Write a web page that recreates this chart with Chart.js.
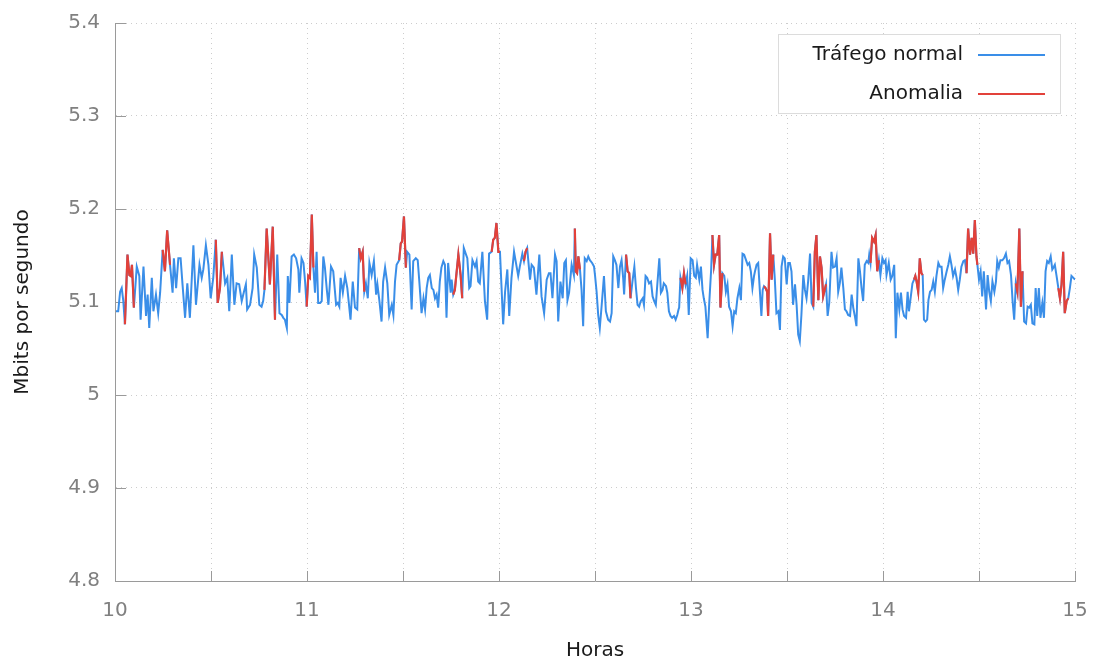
<!DOCTYPE html>
<html>
<head>
<meta charset="utf-8">
<script src="https://cdn.jsdelivr.net/npm/chart.js@4.4.1/dist/chart.umd.min.js"></script>
<style>
  html, body { margin: 0; padding: 0; background: #ffffff; }
  #wrap { width: 1099px; height: 664px; }
</style>
</head>
<body>
<div id="wrap"><canvas id="c" width="1099" height="664"></canvas></div>
<script>
// ---- data (minutes after 10:00, Mbit/s, anomaly flag) ----
const seriesLabels = ["Tráfego normal", "Anomalia"];
const xTitle = "Horas";
const yTitle = "Mbits por segundo";
const startHour = 10;

const minutes = [
  0.3,1.0,1.6,2.1,2.6,3.1,3.9,4.5,4.9,5.3,5.9,6.8,7.6,8.0,8.9,9.7,10.2,10.7,11.5,12.0,12.8,13.5,14.1,14.9,15.6,16.3,17.2,18.0,18.4,19.1,19.8,20.5,21.1,21.9,22.6,23.4,24.5,25.3,26.4,27.1,27.6,28.4,29.2,29.9,30.7,31.5,32.1,32.8,33.4,34.4,35.1,35.7,36.5,37.3,38.0,38.8,39.6,40.3,40.9,41.3,42.2,43.0,43.5,44.3,45.1,45.8,46.3,46.7,47.4,48.4,49.3,50.0,
  50.7,51.4,52.1,52.6,53.1,53.7,54.0,54.5,55.2,55.9,56.6,57.3,57.6,58.3,58.9,59.4,59.9,60.4,60.9,61.5,62.0,62.5,63.0,63.5,64.1,64.6,65.1,65.6,66.2,66.7,67.5,68.2,69.1,69.6,70.1,70.5,71.2,71.9,72.6,73.6,74.3,75.0,75.7,76.3,76.8,77.4,77.9,78.4,79.0,79.5,80.2,80.9,81.6,82.0,82.6,83.3,83.8,84.4,85.1,85.7,86.5,87.0,87.5,88.0,88.8,89.3,89.7,90.3,90.9,91.3,92.0,92.7,93.2,94.0,94.6,95.1,95.8,96.4,96.9,97.4,97.9,98.4,99.0,99.5,100.0,
  100.5,101.0,101.5,102.0,102.6,103.1,103.6,104.1,104.9,105.2,105.7,106.2,107.3,108.0,108.5,109.0,109.7,110.1,110.7,111.1,111.7,112.5,113.0,113.5,114.0,114.8,115.6,116.3,116.9,117.7,118.2,118.7,119.2,119.8,120.3,120.8,121.3,121.9,122.6,123.2,123.9,124.7,125.3,126.0,126.5,127.3,127.8,128.3,128.8,129.7,130.2,130.9,131.7,132.6,133.3,134.1,134.9,135.6,136.1,136.7,137.5,138.0,138.5,139.2,139.9,140.4,140.9,141.4,141.9,142.7,143.4,143.7,144.0,144.4,144.8,145.3,145.8,146.3,146.8,147.4,147.9,148.4,149.1,149.7,
  150.0,150.5,151.0,151.5,152.1,152.8,153.4,154.1,154.7,155.2,155.7,156.2,156.7,157.3,157.8,158.3,158.8,159.1,159.7,160.2,160.7,161.1,161.7,162.3,162.8,163.3,163.8,164.3,164.9,165.3,165.8,166.3,166.9,167.5,168.0,168.5,169.0,169.5,170.1,170.6,171.1,171.5,172.2,172.6,173.1,173.6,174.1,174.7,175.2,175.7,176.1,176.3,176.7,177.3,177.8,178.3,178.8,179.3,179.9,180.5,181.0,181.5,181.9,182.6,183.1,183.6,184.0,184.5,185.2,185.7,186.3,186.7,187.2,187.7,188.2,188.8,189.2,189.8,190.4,190.9,191.4,191.9,192.5,193.0,193.5,194.0,194.5,195.1,195.6,196.1,196.6,197.2,197.7,198.2,198.7,199.2,199.7,
  200.0,200.5,201.0,201.5,202.0,202.4,202.8,203.3,203.8,204.1,204.7,205.2,205.7,206.2,206.7,207.3,207.8,208.3,208.8,209.3,209.9,210.4,210.9,211.4,211.9,212.5,213.0,213.5,214.0,214.5,215.1,215.6,216.1,216.6,217.2,217.7,218.2,218.7,219.2,219.8,220.3,220.8,221.3,222.2,222.7,223.2,223.9,224.4,225.0,225.5,226.0,226.5,227.0,227.6,228.1,228.6,229.1,229.7,230.2,230.7,231.2,231.7,232.3,232.8,233.3,233.8,234.3,234.9,235.4,235.7,236.1,236.6,237.2,237.7,238.2,238.7,239.2,239.8,240.3,240.8,241.1,241.8,242.4,242.9,243.5,244.0,244.5,245.1,245.6,246.1,246.6,247.2,247.7,248.1,248.7,
  249.2,249.7,250.1,250.5,251.0,251.5,252.0,252.4,252.8,253.3,253.8,254.2,254.7,255.2,255.7,256.2,256.7,257.3,257.8,258.3,258.8,259.3,259.9,260.4,260.9,261.4,261.9,262.5,263.0,263.5,264.0,264.5,265.1,265.6,266.1,266.6,267.2,267.7,268.2,268.7,269.2,269.5,270.0,270.5,271.0,271.5,272.2,272.7,273.2,273.7,274.2,274.8,275.3,275.7,276.2,276.7,277.3,277.8,278.4,278.9,279.4,280.0,280.5,281.0,281.5,282.0,282.6,283.1,283.6,284.1,284.7,285.2,285.7,286.2,286.7,287.3,287.7,288.2,288.7,289.2,289.8,290.3,290.8,291.3,291.8,292.4,292.9,293.4,293.7,294.2,294.8,295.3,295.8,296.3,296.8,297.4,297.9,298.4,298.9,299.5,300.0
];

const mbps = [
  5.090,5.090,5.111,5.115,5.101,5.076,5.151,5.129,5.128,5.140,5.094,5.138,5.128,5.081,5.138,5.085,5.108,5.072,5.126,5.090,5.108,5.088,5.110,5.156,5.133,5.177,5.140,5.110,5.147,5.115,5.147,5.147,5.119,5.083,5.120,5.083,5.161,5.097,5.140,5.126,5.135,5.161,5.140,5.104,5.126,5.167,5.099,5.115,5.154,5.120,5.126,5.090,5.151,5.097,5.120,5.119,5.101,5.111,5.119,5.092,5.097,5.115,5.151,5.137,5.097,5.095,5.101,5.113,5.179,5.119,5.181,5.081,
  5.151,5.088,5.086,5.083,5.081,5.072,5.128,5.099,5.149,5.151,5.147,5.135,5.110,5.147,5.142,5.122,5.095,5.128,5.126,5.194,5.137,5.110,5.154,5.099,5.099,5.101,5.149,5.137,5.113,5.097,5.138,5.133,5.097,5.099,5.095,5.126,5.110,5.128,5.115,5.081,5.122,5.094,5.092,5.158,5.147,5.154,5.111,5.120,5.104,5.142,5.129,5.144,5.108,5.119,5.102,5.079,5.122,5.137,5.120,5.086,5.097,5.086,5.122,5.140,5.145,5.163,5.165,5.192,5.137,5.154,5.151,5.092,5.144,5.147,5.145,5.122,5.088,5.104,5.092,5.115,5.126,5.129,5.115,5.113,5.104,
  5.108,5.094,5.122,5.137,5.144,5.140,5.083,5.142,5.110,5.124,5.108,5.113,5.151,5.129,5.104,5.158,5.151,5.147,5.115,5.117,5.145,5.138,5.144,5.122,5.120,5.154,5.101,5.081,5.152,5.154,5.167,5.169,5.185,5.154,5.154,5.115,5.076,5.111,5.135,5.085,5.126,5.154,5.142,5.128,5.138,5.152,5.144,5.154,5.158,5.124,5.140,5.137,5.108,5.151,5.106,5.088,5.124,5.131,5.131,5.104,5.151,5.144,5.079,5.122,5.104,5.142,5.145,5.102,5.110,5.140,5.129,5.179,5.133,5.131,5.149,5.135,5.113,5.074,5.147,5.144,5.149,5.145,5.142,5.138,
  5.129,5.111,5.086,5.072,5.097,5.128,5.090,5.081,5.079,5.088,5.149,5.145,5.140,5.115,5.138,5.145,5.126,5.108,5.151,5.133,5.131,5.104,5.122,5.138,5.115,5.097,5.095,5.101,5.104,5.097,5.128,5.126,5.120,5.122,5.106,5.101,5.097,5.120,5.147,5.110,5.113,5.120,5.117,5.110,5.090,5.085,5.083,5.085,5.081,5.086,5.092,5.094,5.126,5.115,5.131,5.119,5.128,5.086,5.147,5.145,5.128,5.126,5.140,5.124,5.138,5.113,5.104,5.095,5.061,5.099,5.135,5.172,5.140,5.151,5.151,5.172,5.094,5.131,5.128,5.111,5.119,5.095,5.090,5.074,5.090,5.088,5.104,5.115,5.102,5.152,5.151,5.145,5.140,5.142,5.133,5.115,5.128,
  5.133,5.140,5.142,5.113,5.085,5.113,5.117,5.115,5.111,5.085,5.174,5.124,5.151,5.124,5.088,5.090,5.070,5.138,5.149,5.147,5.119,5.142,5.142,5.133,5.097,5.119,5.097,5.065,5.058,5.086,5.129,5.113,5.104,5.122,5.152,5.099,5.095,5.154,5.172,5.102,5.149,5.137,5.106,5.119,5.085,5.099,5.154,5.137,5.138,5.147,5.111,5.120,5.137,5.115,5.092,5.090,5.086,5.085,5.108,5.094,5.085,5.074,5.147,5.133,5.115,5.101,5.140,5.144,5.142,5.151,5.142,5.169,5.165,5.172,5.133,5.145,5.129,5.147,5.142,5.145,5.129,5.142,5.124,5.128,5.140,5.061,5.110,5.092,5.110,5.092,5.085,5.083,5.111,5.090,5.106,
  5.120,5.124,5.128,5.122,5.111,5.147,5.131,5.129,5.081,5.079,5.081,5.102,5.111,5.113,5.122,5.111,5.128,5.142,5.138,5.138,5.115,5.124,5.133,5.140,5.149,5.140,5.128,5.135,5.126,5.113,5.124,5.138,5.144,5.145,5.131,5.179,5.151,5.169,5.152,5.188,5.149,5.140,5.124,5.133,5.106,5.133,5.092,5.129,5.111,5.101,5.122,5.111,5.122,5.144,5.137,5.145,5.145,5.147,5.152,5.142,5.144,5.129,5.101,5.081,5.120,5.111,5.179,5.095,5.133,5.079,5.077,5.095,5.094,5.097,5.077,5.076,5.115,5.085,5.115,5.083,5.099,5.083,5.133,5.144,5.142,5.149,5.135,5.138,5.140,5.129,5.115,5.104,5.119,5.154,5.088,5.101,5.104,5.115,5.128,5.126,5.124
];

const anomalyFlag = [
  0,0,0,0,0,1,1,1,1,1,1,0,0,0,0,0,0,0,0,0,0,0,0,1,1,1,1,0,0,0,0,0,0,0,0,0,0,0,0,0,0,0,0,0,0,1,1,1,1,0,0,0,0,0,0,0,0,0,0,0,0,0,0,0,0,0,0,1,1,1,1,1,
  0,0,0,0,0,0,0,0,0,0,0,0,0,0,0,0,1,1,1,1,1,0,0,0,0,0,0,0,0,0,0,0,0,0,0,0,0,0,0,0,0,0,0,1,1,1,1,0,0,0,0,0,0,0,0,0,0,0,0,0,0,0,0,0,1,1,1,1,1,0,0,0,0,0,0,0,0,0,0,0,0,0,0,0,0,0,
  0,0,0,0,0,0,0,0,0,1,1,1,1,1,0,0,0,0,0,0,0,0,0,0,0,0,0,0,1,1,1,1,1,1,0,0,0,0,0,0,0,0,0,0,0,1,1,1,0,0,0,0,0,0,0,0,0,0,0,0,0,0,0,0,0,0,0,0,0,0,1,1,1,1,1,0,0,0,0,0,0,0,0,0,
  0,0,0,0,0,0,0,0,0,0,0,0,0,0,0,0,0,1,1,1,1,0,0,0,0,0,0,0,0,0,0,0,0,0,0,0,0,0,0,0,0,0,0,0,0,0,0,0,0,0,0,1,1,1,1,0,0,0,0,0,0,0,0,0,0,0,0,0,0,0,1,1,1,1,1,1,1,0,0,0,0,0,0,0,0,0,0,0,0,0,0,0,0,0,0,0,0,
  0,0,0,0,0,1,1,1,1,1,1,1,0,0,0,0,0,0,0,0,0,0,0,0,0,0,0,0,0,0,0,0,0,0,0,1,1,1,1,1,1,1,1,0,0,0,0,0,0,0,0,0,0,0,0,0,0,0,0,0,0,0,0,0,0,0,0,0,0,1,1,1,1,1,1,0,0,0,0,0,0,0,0,0,0,0,0,0,0,0,0,0,0,0,0,
  1,1,1,1,1,1,1,0,0,0,0,0,0,0,0,0,0,0,0,0,0,0,0,0,0,0,0,0,0,0,0,0,0,1,1,1,1,1,1,1,1,0,0,0,0,0,0,0,0,0,0,0,0,0,0,0,0,0,0,0,0,0,0,1,1,1,1,1,0,0,0,0,0,0,0,0,0,0,0,0,0,0,0,0,0,0,0,0,0,1,1,1,1,1,1,1,0,0,0,0,0,0
];

const xTicksMin = 10, xTicksMax = 15, xStep = 0.5;
const yTicksMin = 4.8, yTicksMax = 5.4, yStep = 0.1;

// ---- build datasets ----
const n = Math.min(minutes.length, mbps.length);
const normalPts = [];
const anomalyPts = [];
for (let i = 0; i < n; i++) {
  const x = startHour + minutes[i] / 60;
  normalPts.push({ x: x, y: mbps[i] });
  anomalyPts.push({ x: x, y: anomalyFlag[i] ? mbps[i] : null });
}

const BLUE = '#3a8ee8';
const RED = '#e2413a';
const FONT = "'DejaVu Sans', 'Liberation Sans', sans-serif";

// inside tick marks (gnuplot style)
const insideTicks = {
  id: 'insideTicks',
  beforeDatasetsDraw(chart) {
    const { ctx, chartArea: a, scales } = chart;
    ctx.save();
    ctx.strokeStyle = '#9a9a9a';
    ctx.lineWidth = 1;
    ctx.beginPath();
    scales.y.ticks.forEach(t => {
      const y = Math.round(scales.y.getPixelForValue(t.value)) + 0.5;
      ctx.moveTo(a.left, y); ctx.lineTo(a.left + 11, y);
    });
    scales.x.ticks.forEach(t => {
      const x = Math.round(scales.x.getPixelForValue(t.value)) + 0.5;
      ctx.moveTo(x, a.bottom); ctx.lineTo(x, a.bottom - 10);
    });
    ctx.stroke();
    ctx.restore();
  }
};

// legend box like the reference (text right-aligned, line sample on the right)
const boxLegend = {
  id: 'boxLegend',
  afterDatasetsDraw(chart) {
    const { ctx, chartArea: a } = chart;
    const w = 282, h = 79;
    const left = a.right - 15 - w, top = a.top + 11;
    ctx.save();
    ctx.fillStyle = '#ffffff';
    ctx.fillRect(left, top, w, h);
    ctx.strokeStyle = '#dcdcdc';
    ctx.lineWidth = 1;
    ctx.strokeRect(left + 0.5, top + 0.5, w, h);
    ctx.font = '20px ' + FONT;
    ctx.textAlign = 'right';
    ctx.textBaseline = 'middle';
    const rows = [top + 21, top + 60];
    chart.data.datasets.slice().sort((p, q) => p.legendRank - q.legendRank).forEach((ds, i) => {
      ctx.fillStyle = '#1a1a1a';
      ctx.fillText(ds.label, left + 185, rows[i]);
      ctx.strokeStyle = ds.borderColor;
      ctx.lineWidth = 2;
      ctx.beginPath();
      ctx.moveTo(left + 200, rows[i]);
      ctx.lineTo(left + 267, rows[i]);
      ctx.stroke();
    });
    ctx.restore();
  }
};

new Chart(document.getElementById('c'), {
  type: 'line',
  data: {
    datasets: [
      { label: seriesLabels[0], data: normalPts, borderColor: BLUE, borderWidth: 2,
        pointRadius: 0, tension: 0, fill: false, order: 1, legendRank: 0 },
      { label: seriesLabels[1], data: anomalyPts, borderColor: RED, borderWidth: 2.2,
        pointRadius: 0, tension: 0, fill: false, spanGaps: false, order: 0, legendRank: 1 }
    ]
  },
  options: {
    responsive: false,
    animation: false,
    devicePixelRatio: 1,
    parsing: true,
    layout: { padding: { top: 23, right: 24, left: 0, bottom: 0 } },
    plugins: { legend: { display: false }, tooltip: { enabled: false } },
    scales: {
      x: {
        type: 'linear', position: 'bottom',
        min: xTicksMin, max: xTicksMax,
        afterFit(s) { s.height = 83; s.paddingLeft = 0; s.paddingRight = 0; s.paddingTop = 0; s.paddingBottom = 0; },
        ticks: {
          stepSize: xStep, autoSkip: false, maxRotation: 0, padding: 18,
          color: '#808080', font: { family: FONT, size: 20 },
          callback: v => (Math.abs(v - Math.round(v)) < 1e-6 ? String(Math.round(v)) : '')
        },
        grid: { color: '#cccccc', lineWidth: 1, drawTicks: false },
        border: { display: true, color: '#9a9a9a', width: 1, dash: [1, 4] },
        title: { display: true, text: xTitle, color: '#1a1a1a',
                 font: { family: FONT, size: 20 }, padding: { top: 0, bottom: 1 } }
      },
      y: {
        min: yTicksMin, max: yTicksMax,
        afterFit(s) { s.width = 115; s.paddingLeft = 0; s.paddingRight = 0; s.paddingTop = 0; s.paddingBottom = 0; },
        ticks: {
          stepSize: yStep, padding: 15,
          color: '#808080', font: { family: FONT, size: 20 },
          callback: v => String(parseFloat(Number(v).toFixed(1)))
        },
        grid: { color: '#cccccc', lineWidth: 1, drawTicks: false },
        border: { display: true, color: '#9a9a9a', width: 1, dash: [1, 4] },
        title: { display: true, text: yTitle, color: '#1a1a1a',
                 font: { family: FONT, size: 20 }, padding: { top: 11, bottom: 0 } }
      }
    }
  },
  plugins: [insideTicks, boxLegend]
});
</script>
</body>
</html>
